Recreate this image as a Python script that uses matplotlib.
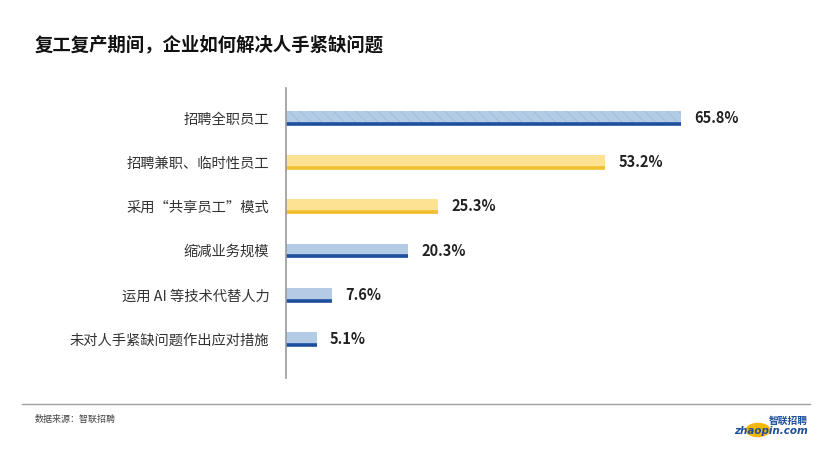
import matplotlib.pyplot as plt
from matplotlib.patches import Circle

plt.rcParams['font.family'] = ['Noto Sans CJK SC', 'DejaVu Sans']
plt.rcParams['hatch.linewidth'] = 0.8

categories = ['招聘全职员工', '招聘兼职、临时性员工', '采用“共享员工”模式',
              '缩减业务规模', '运用 AI 等技术代替人力', '未对人手紧缺问题作出应对措施']
values = [65.8, 53.2, 25.3, 20.3, 7.6, 5.1]
fills = ['#b3cbe5', '#fde293', '#fde293', '#b3cbe5', '#b3cbe5', '#b3cbe5']
lines = ['#1d4f9c', '#f0c02c', '#f0c02c', '#1d4f9c', '#1d4f9c', '#1d4f9c']

fig = plt.figure(figsize=(8.32, 4.68), dpi=100)
ax = fig.add_axes([286/832, 1-378/468, 540/832, 290/468])

ypos = list(range(len(categories)))
for i, (v, fc, lc) in enumerate(zip(values, fills, lines)):
    if i == 0:
        # first bar has a faint diagonal texture
        ax.barh(i, v, height=0.32, color=fc, edgecolor='#a5bfdc', lw=0,
                hatch='\\\\\\')
    else:
        ax.barh(i, v, height=0.32, color=fc, edgecolor='none')
    ax.hlines(i + 0.13, 0, v, color=lc, lw=2.6)
    ax.text(v + 2.2, i, f'{v}%', va='center', ha='left', fontsize=10.5,
            fontweight='bold', color='#222222')

ax.set_xlim(0, 90)
ax.set_ylim(5.88, -0.68)
ax.set_yticks(ypos)
ax.set_yticklabels(categories, fontsize=10.3, color='#333333')
ax.tick_params(axis='y', length=0, pad=12)
ax.set_xticks([])
for s in ['top', 'right', 'bottom']:
    ax.spines[s].set_visible(False)
ax.spines['left'].set_color('#9a9a9a')
ax.spines['left'].set_linewidth(1.2)

fig.text(35/832, 1-45/468, '复工复产期间，企业如何解决人手紧缺问题', fontsize=13.2,
         fontweight='bold', va='center', ha='left', color='#111111')

fig.add_artist(plt.Line2D([22/832, 810/832], [1-404/468, 1-404/468],
                          color='#a0a0a0', lw=1))
fig.text(35/832, 1-419/468, '数据来源：智联招聘', fontsize=6.5, va='center',
         ha='left', color='#444444')

# logo
fig.add_artist(Circle((758/832, 1-430/468), 0.014, transform=fig.transFigure,
                      color='#f5b800', zorder=1))
fig.text(808/832, 1-421/468, '智联招聘', fontsize=7, fontweight='bold',
         color='#1d4f9c', ha='right', va='center', style='italic', zorder=2)
fig.text(808/832, 1-431/468, 'zhaopin.com', fontsize=7.5, fontweight='bold',
         color='#1d4f9c', ha='right', va='center', style='italic',
         family='DejaVu Sans', zorder=2)

fig.savefig('out.png', dpi=100, facecolor='white')
